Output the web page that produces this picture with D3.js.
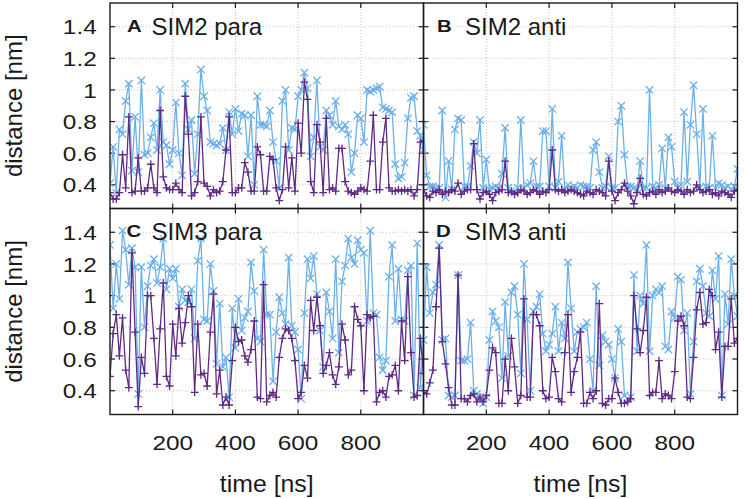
<!DOCTYPE html>
<html><head><meta charset="utf-8">
<script src="https://cdn.jsdelivr.net/npm/d3@7/dist/d3.min.js"></script>
<style>body{margin:0;background:#fff}text{font-family:"Liberation Sans",Arial,sans-serif;fill:#1a1a1a}</style>
</head><body>
<svg id="chart" width="744" height="499"></svg>
<script>
// ---------------- data ----------------
const timeNs = [0,10,20,30,40,50,60,70,80,90,100,110,120,130,140,150,160,170,180,190,200,210,220,230,240,250,260,270,280,290,300,310,320,330,340,350,360,370,380,390,400,410,420,430,440,450,460,470,480,490,500,510,520,530,540,550,560,570,580,590,600,610,620,630,640,650,660,670,680,690,700,710,720,730,740,750,760,770,780,790,800,810,820,830,840,850,860,870,880,890,900,910,920,930,940,950,960,970,980,990,1000];

const sim2ParaPurple = [0.35,0.31,0.31,0.35,0.59,0.38,0.83,0.35,0.36,0.57,
 0.36,0.36,0.38,0.53,0.38,0.35,0.87,0.45,0.38,0.37,
 0.37,0.41,0.37,0.35,0.96,0.72,0.33,0.35,0.42,0.83,
 0.41,0.39,0.33,0.37,0.35,0.36,0.42,0.62,0.83,0.35,
 0.35,0.38,0.38,0.54,0.48,0.36,0.36,0.64,0.59,0.36,
 0.36,0.58,0.56,0.38,0.30,0.37,0.64,0.38,0.57,0.36,
 0.79,0.60,1.05,0.94,0.42,0.35,0.78,0.67,0.35,0.82,
 0.37,0.38,0.36,0.63,0.63,0.42,0.36,0.35,0.34,0.36,
 0.38,0.37,0.36,0.55,0.84,0.37,0.37,0.67,0.82,0.38,
 0.36,0.36,0.37,0.36,0.37,0.36,0.37,0.33,0.37,0.67,0.68];
const sim2ParaBlue = [0.41,0.64,0.35,0.75,0.72,0.93,1.04,0.49,0.83,0.48,
 1.06,0.59,0.60,0.70,0.79,0.62,1.00,0.67,0.65,0.53,
 0.62,0.92,0.60,0.46,1.04,0.75,0.81,0.47,0.72,1.13,
 0.96,0.87,0.67,0.66,0.65,0.66,0.76,0.62,0.86,0.72,
 0.88,0.74,0.85,0.84,0.58,0.84,0.40,0.96,0.78,0.78,
 0.77,0.87,0.67,0.55,0.38,0.93,1.00,0.62,0.76,0.75,
 0.96,1.00,1.11,1.01,0.58,0.70,1.06,0.64,0.62,0.87,
 0.84,0.78,0.93,0.77,0.75,0.78,0.72,0.48,0.60,0.84,
 0.82,0.67,1.00,0.99,1.00,1.01,1.02,0.89,0.88,0.87,
 0.86,0.53,0.44,0.45,0.54,0.82,0.95,0.96,0.74,0.71,0.62];

const sim2AntiPurple = [0.37,0.33,0.32,0.36,0.35,0.37,0.34,0.36,0.35,0.37,
 0.36,0.41,0.34,0.36,0.37,0.37,0.66,0.37,0.31,0.35,
 0.36,0.34,0.30,0.35,0.36,0.37,0.55,0.35,0.36,0.34,
 0.35,0.37,0.36,0.34,0.35,0.37,0.36,0.34,0.36,0.35,
 0.37,0.62,0.37,0.36,0.37,0.35,0.36,0.37,0.36,0.35,
 0.34,0.33,0.36,0.35,0.34,0.37,0.36,0.35,0.33,0.55,
 0.36,0.30,0.35,0.37,0.41,0.36,0.33,0.28,0.35,0.44,
 0.34,0.33,0.35,0.36,0.34,0.37,0.35,0.36,0.38,0.36,
 0.35,0.37,0.36,0.34,0.37,0.35,0.36,0.40,0.37,0.35,
 0.36,0.37,0.34,0.35,0.33,0.36,0.35,0.34,0.32,0.36,0.37];
const sim2AntiBlue = [0.78,0.46,0.39,0.39,0.38,0.38,0.87,0.32,0.55,0.37,
 0.75,0.82,0.81,0.39,0.39,0.52,0.67,0.60,0.81,0.38,
 0.56,0.37,0.38,0.39,0.38,0.47,0.76,0.38,0.36,0.35,
 0.38,0.81,0.38,0.40,0.41,0.55,0.39,0.39,0.74,0.74,
 0.39,0.88,0.38,0.42,0.71,0.37,0.40,0.38,0.39,0.38,
 0.40,0.39,0.39,0.38,0.62,0.67,0.48,0.38,0.39,0.58,
 0.38,0.38,0.80,0.90,0.59,0.39,0.39,0.38,0.37,0.55,
 0.38,0.38,1.00,0.39,0.38,0.40,0.63,0.38,0.70,0.64,
 0.42,0.38,0.40,0.86,0.42,0.78,1.03,0.72,0.38,0.88,
 0.39,0.38,0.71,0.38,0.41,0.40,0.38,0.39,0.37,0.39,0.50];

const sim3ParaPurple = [0.49,0.76,0.88,0.62,0.86,0.53,0.42,1.27,0.77,0.30,
 0.61,0.51,1.00,1.00,0.73,0.44,0.79,1.08,0.49,0.43,
 0.82,0.62,0.92,0.70,0.83,1.00,0.93,0.39,0.82,0.50,
 0.51,0.43,0.77,1.01,0.38,0.53,0.31,0.36,0.31,0.59,
 0.80,0.71,0.72,0.62,0.58,0.66,0.84,0.36,0.35,1.07,
 0.33,0.37,0.39,0.36,0.61,0.73,0.79,0.78,0.73,0.59,
 0.35,0.39,0.56,0.48,0.97,0.78,0.99,0.81,0.51,0.56,
 0.64,0.50,0.44,0.55,0.82,0.72,0.50,0.53,0.93,0.85,
 0.81,0.40,0.88,0.86,0.87,0.33,0.39,0.40,0.36,0.49,
 0.50,0.56,0.40,0.84,0.59,1.12,0.64,0.36,0.37,0.73,0.51];
const sim3ParaBlue = [1.32,0.92,1.20,0.98,1.41,1.29,1.07,1.30,1.18,0.38,
 1.18,0.80,1.06,1.19,1.23,1.08,1.18,1.36,1.04,1.17,
 1.11,1.17,0.93,1.04,0.97,0.96,1.04,0.73,1.22,1.36,
 0.85,0.84,1.20,1.03,0.57,0.95,0.55,0.61,0.36,0.92,
 0.67,0.98,0.78,0.86,0.90,1.21,1.03,0.73,0.71,1.29,
 0.88,0.88,0.46,0.77,0.99,0.89,0.82,1.24,0.81,0.77,
 0.66,0.35,0.89,1.23,1.11,1.25,1.01,0.78,0.55,1.02,
 0.90,0.73,1.23,0.64,1.09,1.19,1.36,1.24,1.20,1.35,
 1.29,1.27,0.84,1.41,0.89,0.88,0.61,0.53,0.59,1.12,
 1.32,0.84,1.17,0.85,0.84,1.16,1.19,0.37,1.33,0.42,0.72];

const sim3AntiPurple = [0.39,0.38,0.45,0.53,0.93,1.30,0.71,0.57,0.42,0.31,
 0.31,1.13,0.35,0.35,0.33,0.37,0.38,0.33,0.36,0.33,
 0.37,0.53,0.67,0.64,0.32,0.32,0.60,0.40,0.73,0.55,
 0.32,0.37,0.98,0.36,0.36,0.88,0.88,0.81,0.40,0.35,
 0.36,0.61,0.52,0.35,0.33,0.64,0.88,0.39,0.52,0.61,
 0.77,0.32,0.32,0.39,0.35,0.40,0.95,0.32,0.31,0.35,
 0.35,0.48,0.39,0.32,0.32,0.33,0.35,1.00,0.79,0.64,
 0.78,0.99,0.37,0.39,0.39,0.59,0.35,0.38,0.37,0.35,
 0.52,0.84,0.87,0.81,0.36,0.35,0.61,0.91,1.02,0.82,
 0.83,1.04,1.00,0.66,0.77,0.36,0.68,0.68,0.98,0.70,0.73];
const sim3AntiBlue = [0.72,1.18,0.89,1.02,1.07,1.32,0.72,0.73,0.37,0.36,
 0.37,1.13,0.59,0.59,0.60,0.83,0.40,0.38,0.36,0.32,
 0.36,0.72,0.90,0.84,0.80,0.48,0.96,0.62,1.02,1.06,
 0.88,0.51,1.20,0.85,0.40,0.90,0.93,1.01,0.76,0.65,
 0.69,0.76,0.93,0.65,0.83,0.73,1.21,0.92,0.65,0.77,
 0.79,0.80,0.83,0.60,0.40,1.06,0.56,0.75,0.71,0.69,
 0.60,0.48,0.79,0.71,0.37,0.35,0.36,1.13,0.65,1.00,
 0.95,1.32,0.65,1.00,1.04,1.02,1.06,0.68,0.66,0.90,
 0.86,1.12,1.10,0.78,0.89,0.38,0.71,1.09,1.17,1.06,
 0.89,0.87,1.16,0.98,1.25,0.37,1.01,0.82,1.23,1.00,0.87];

const panelLetters = ["A","B","C","D"];
const panelTitles = ["SIM2 para","SIM2 anti","SIM3 para","SIM3 anti"];
const xTicks = [200,400,600,800];
const yTicks = [0.4,0.6,0.8,1.0,1.2,1.4];
const xLabel = "time [ns]";
const yLabel = "distance [nm]";

// ---------------- layout / style ----------------
const colEdges = [110, 423.5, 737.5];
const rowEdges = [3, 208.5, 414.5];
const purple = "#5f2a86";
const blue = "#6cb0ea";
const letterOffsets = [17, 13.5, 16.5, 12.5];

const panels = [
  {purpleS: sim2ParaPurple, blueS: sim2ParaBlue, col:0, row:0},
  {purpleS: sim2AntiPurple, blueS: sim2AntiBlue, col:1, row:0},
  {purpleS: sim3ParaPurple, blueS: sim3ParaBlue, col:0, row:1},
  {purpleS: sim3AntiPurple, blueS: sim3AntiBlue, col:1, row:1}
];

const svg = d3.select("#chart");
const fmt = d3.format("~g");

panels.forEach((p, k) => {
  const x0 = colEdges[p.col], x1 = colEdges[p.col+1];
  const y0 = rowEdges[p.row], y1 = rowEdges[p.row+1];
  const x = d3.scaleLinear().domain([0,1000]).range([x0,x1]);
  const y = d3.scaleLinear().domain([0.25,1.55]).range([y1,y0]);
  const g = svg.append("g");
  const clipId = "clip"+k;
  svg.append("clipPath").attr("id",clipId).append("rect")
    .attr("x",x0).attr("y",y0).attr("width",x1-x0).attr("height",y1-y0);

  // grid
  g.selectAll(".gx").data(xTicks).join("line")
    .attr("x1",d=>x(d)).attr("x2",d=>x(d)).attr("y1",y0).attr("y2",y1)
    .attr("stroke","#c4c4c4").attr("stroke-width",1).attr("stroke-dasharray","1,2");
  g.selectAll(".gy").data(yTicks).join("line")
    .attr("x1",x0).attr("x2",x1).attr("y1",d=>y(d)).attr("y2",d=>y(d))
    .attr("stroke","#c4c4c4").attr("stroke-width",1).attr("stroke-dasharray","1,2");

  // ticks (inward on all four sides)
  const tl = 5;
  const tk = g.append("g").attr("stroke","#1a1a1a").attr("stroke-width",1.2);
  xTicks.forEach(t => {
    tk.append("line").attr("x1",x(t)).attr("x2",x(t)).attr("y1",y1).attr("y2",y1-tl);
    tk.append("line").attr("x1",x(t)).attr("x2",x(t)).attr("y1",y0).attr("y2",y0+tl);
  });
  yTicks.forEach(t => {
    tk.append("line").attr("x1",x0).attr("x2",x0+tl).attr("y1",y(t)).attr("y2",y(t));
    tk.append("line").attr("x1",x1).attr("x2",x1-tl).attr("y1",y(t)).attr("y2",y(t));
  });

  const data = timeNs.map((t,i)=>({t, pu:p.purpleS[i], bl:p.blueS[i]}));
  const plot = g.append("g").attr("clip-path",`url(#${clipId})`);

  function series(key, color, shape){
    const line = d3.line().x(d=>x(d.t)).y(d=>y(d[key]));
    plot.append("path").datum(data).attr("d",line)
      .attr("fill","none").attr("stroke",color).attr("stroke-width",1.3)
      .attr("stroke-linejoin","round");
    plot.append("g").selectAll("path").data(data).join("path")
      .attr("transform",d=>`translate(${x(d.t)},${y(d[key])})`)
      .attr("d",shape).attr("stroke",color).attr("stroke-width",1.3).attr("fill","none");
  }
  series("bl", blue, "M-3.7,-3.7L3.7,3.7M-3.7,3.7L3.7,-3.7");
  series("pu", purple, "M-3.9,0H3.9M0,-3.9V3.9");

  // frame
  g.append("rect").attr("x",x0).attr("y",y0).attr("width",x1-x0).attr("height",y1-y0)
    .attr("fill","none").attr("stroke","#1a1a1a").attr("stroke-width",1.4);

  // title
  const tb = y0 + 31.7;
  g.append("text").attr("transform",`translate(${x0+letterOffsets[k]},${tb-3.2}) scale(1.2,1)`)
    .attr("font-weight","bold").attr("font-size",17).text(panelLetters[k]);
  g.append("text").attr("x",x0+41.5).attr("y",tb).attr("font-size",24).text(panelTitles[k]);

  // y tick labels / y label on left column
  if (p.col===0){
    g.selectAll(".yl").data(yTicks).join("text")
      .attr("transform",d=>`translate(96.7,${y(d)}) scale(1.16,1)`)
      .attr("dy","0.36em").attr("text-anchor","end").attr("font-size",21).text(d=>fmt(d));
    g.append("text").attr("transform",`translate(22,${(y0+y1)/2}) rotate(-90)`)
      .attr("text-anchor","middle").attr("font-size",24).text(yLabel);
  }
  // x tick labels / x label on bottom row
  if (p.row===1){
    g.selectAll(".xl").data(xTicks).join("text")
      .attr("transform",d=>`translate(${x(d)},450) scale(1.16,1)`)
      .attr("text-anchor","middle").attr("font-size",21).text(d=>fmt(d));
    g.append("text").attr("transform",`translate(${(x0+x1)/2},491.5) scale(1.08,1)`)
      .attr("text-anchor","middle").attr("font-size",23).text(xLabel);
  }
});
</script>
</body></html>
